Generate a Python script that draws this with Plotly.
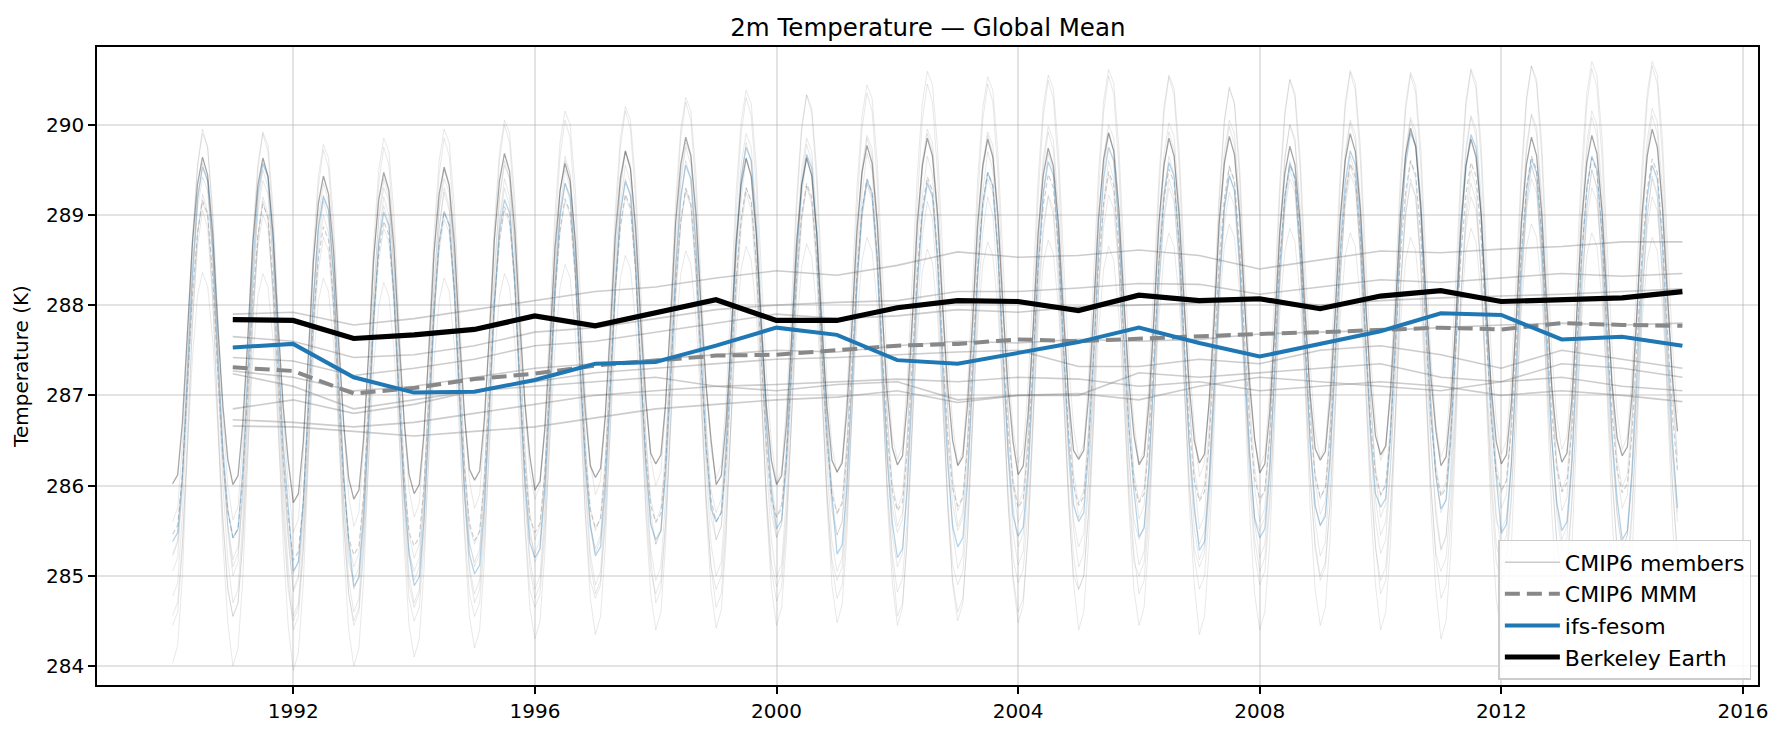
import plotly.graph_objects as go

# ---------------- data ----------------
years = list(range(1990, 2015))          # years of monthly data
tick_years = [1992, 1996, 2000, 2004, 2008, 2012, 2016]

# annual means (plotted at year end)
be_annual = [287.84, 287.83, 287.63, 287.67, 287.73, 287.88, 287.77, 287.91, 288.06, 287.83,
             287.83, 287.97, 288.05, 288.04, 287.94, 288.11, 288.05, 288.07, 287.96, 288.10,
             288.16, 288.04, 288.06, 288.08, 288.15]
ifs_annual = [287.53, 287.57, 287.20, 287.03, 287.04, 287.17, 287.35, 287.37, 287.55, 287.75,
              287.67, 287.39, 287.35, 287.47, 287.59, 287.75, 287.58, 287.43, 287.57, 287.71,
              287.91, 287.89, 287.62, 287.65, 287.55]
mmm_annual = [287.31, 287.27, 287.02, 287.08, 287.18, 287.24, 287.33, 287.38, 287.44, 287.45,
              287.50, 287.55, 287.57, 287.62, 287.60, 287.63, 287.66, 287.68, 287.70, 287.72,
              287.75, 287.73, 287.80, 287.78, 287.77]

member_m1 = [287.90, 287.92, 287.78, 287.85, 287.95, 288.05, 288.15, 288.20, 288.30, 288.38,
             288.33, 288.44, 288.59, 288.53, 288.55, 288.61, 288.55, 288.40, 288.50, 288.60,
             288.58, 288.62, 288.65, 288.70, 288.70]
member_m2 = [287.65, 287.60, 287.42, 287.45, 287.55, 287.70, 287.75, 287.85, 287.95, 288.00,
             288.03, 288.05, 288.15, 288.15, 288.19, 288.24, 288.23, 288.12, 288.20, 288.28,
             288.25, 288.30, 288.35, 288.32, 288.35]
member_m3 = [287.42, 287.38, 287.22, 287.30, 287.40, 287.55, 287.60, 287.70, 287.80, 287.90,
             287.85, 287.88, 287.95, 287.92, 287.98, 288.00, 288.02, 288.05, 288.00, 288.05,
             288.08, 288.10, 288.12, 288.15, 288.18]
member_m4 = [287.27, 287.20, 287.05, 287.10, 287.20, 287.30, 287.35, 287.40, 287.45, 287.50,
             287.48, 287.55, 287.60, 287.58, 287.62, 287.60, 287.62, 287.68, 287.70, 287.72,
             287.75, 287.78, 287.80, 287.78, 287.80]
member_m5 = [287.24, 287.10, 286.85, 286.95, 287.05, 287.15, 287.25, 287.30, 287.35, 287.40,
             287.42, 287.45, 287.48, 287.50, 287.32, 287.32, 287.40, 287.35, 287.50, 287.55,
             287.45, 287.30, 287.50, 287.40, 287.30]
member_m6 = [286.85, 286.95, 286.80, 286.90, 287.05, 287.10, 287.15, 287.20, 287.10, 287.05,
             287.12, 287.15, 286.95, 287.00, 287.00, 287.25, 287.20, 287.25, 287.30, 287.35,
             287.20, 287.15, 287.35, 287.30, 287.20]
member_m7 = [286.73, 286.70, 286.65, 286.70, 286.80, 286.90, 287.00, 287.05, 287.10, 287.12,
             287.15, 287.18, 287.15, 287.20, 287.18, 287.10, 287.15, 287.05, 287.10, 287.15,
             287.10, 287.00, 287.05, 287.00, 286.93]
member_m8 = [286.66, 286.65, 286.60, 286.55, 286.60, 286.65, 286.75, 286.85, 286.90, 286.95,
             286.98, 287.05, 286.92, 287.00, 287.02, 286.95, 287.10, 287.20, 287.15, 287.10,
             287.05, 287.15, 287.20, 287.10, 287.05]
members_annual = [member_m1, member_m2, member_m3, member_m4,
                  member_m5, member_m6, member_m7, member_m8]

# seasonal departures (Jan..Dec) from the annual mean, K
be_clim = [-1.82, -1.72, -1.15, -0.20, 0.85, 1.50, 1.80, 1.60, 0.95, -0.05, -0.95, -1.55]
ifs_clim = [-2.15, -2.05, -1.40, -0.30, 0.85, 1.65, 2.00, 1.85, 1.10, -0.05, -1.10, -1.80]
mmm_clim = [-1.85, -1.75, -1.20, -0.20, 0.80, 1.50, 1.85, 1.70, 1.00, -0.05, -1.00, -1.60]
clim_m1 = [-2.30, -2.15, -1.45, -0.30, 0.85, 1.65, 2.00, 1.85, 1.15, 0.00, -1.15, -1.90]
clim_m2 = [-2.60, -2.45, -1.65, -0.35, 1.00, 1.90, 2.30, 2.10, 1.30, 0.00, -1.30, -2.15]
clim_m3 = [-2.20, -2.05, -1.40, -0.30, 0.85, 1.65, 2.00, 1.85, 1.10, 0.00, -1.10, -1.85]
clim_m4 = [-2.50, -2.35, -1.60, -0.35, 0.95, 1.90, 2.30, 2.10, 1.25, 0.00, -1.25, -2.10]
clim_m5 = [-2.00, -1.85, -1.25, -0.25, 0.80, 1.55, 1.90, 1.75, 1.05, 0.00, -1.00, -1.70]
clim_m6 = [-2.40, -2.25, -1.55, -0.35, 0.95, 1.80, 2.20, 2.00, 1.20, 0.00, -1.20, -2.00]
clim_m7 = [-2.70, -2.50, -1.75, -0.40, 1.05, 2.05, 2.50, 2.30, 1.35, 0.00, -1.35, -2.25]
clim_m8 = [-2.10, -1.95, -1.30, -0.25, 0.75, 1.45, 1.70, 1.55, 0.95, 0.00, -1.05, -1.80]
members_clim = [clim_m1, clim_m2, clim_m3, clim_m4, clim_m5, clim_m6, clim_m7, clim_m8]

# ---------------- helpers ----------------
annual_dates = [f"{y}-12-31" for y in years]
month_dates = [f"{y}-{m:02d}-01" for y in years for m in range(1, 13)]


def monthly(annual, clim):
    return [annual[i] + clim[m] for i in range(len(years)) for m in range(12)]


fig = go.Figure()

# CMIP6 members monthly
for ann, cl in zip(members_annual, members_clim):
    fig.add_trace(go.Scatter(x=month_dates, y=monthly(ann, cl), mode="lines",
                             line=dict(color="rgba(128,128,128,0.18)", width=1.0),
                             showlegend=False, hoverinfo="skip"))
# CMIP6 members annual
for k, ann in enumerate(members_annual):
    fig.add_trace(go.Scatter(x=annual_dates, y=ann, mode="lines",
                             line=dict(color="rgba(128,128,128,0.40)", width=1.6),
                             name="CMIP6 members", legendgroup="mem",
                             showlegend=(k == 0), legendrank=1))
# MMM monthly
fig.add_trace(go.Scatter(x=month_dates, y=monthly(mmm_annual, mmm_clim), mode="lines",
                         line=dict(color="rgba(140,140,140,0.45)", width=1.1, dash="5px,3px"),
                         showlegend=False, hoverinfo="skip"))
# ifs-fesom monthly
fig.add_trace(go.Scatter(x=month_dates, y=monthly(ifs_annual, ifs_clim), mode="lines",
                         line=dict(color="rgba(31,119,180,0.32)", width=1.3),
                         showlegend=False, hoverinfo="skip"))
# Berkeley Earth monthly
fig.add_trace(go.Scatter(x=month_dates, y=monthly(be_annual, be_clim), mode="lines",
                         line=dict(color="rgba(0,0,0,0.35)", width=1.3),
                         showlegend=False, hoverinfo="skip"))
# annual highlights
fig.add_trace(go.Scatter(x=annual_dates, y=mmm_annual, mode="lines",
                         line=dict(color="#888888", width=4, dash="15px,7px"),
                         name="CMIP6 MMM", legendrank=2))
fig.add_trace(go.Scatter(x=annual_dates, y=ifs_annual, mode="lines",
                         line=dict(color="#1f77b4", width=4),
                         name="ifs-fesom", legendrank=3))
fig.add_trace(go.Scatter(x=annual_dates, y=be_annual, mode="lines",
                         line=dict(color="#000000", width=5.2),
                         name="Berkeley Earth", legendrank=4))

font = "DejaVu Sans, sans-serif"
fig.update_layout(
    width=1781, height=735,
    margin=dict(l=97, r=23, t=47, b=50),
    paper_bgcolor="white", plot_bgcolor="white",
    font=dict(family=font, size=20, color="black"),
    title=dict(text="2m Temperature — Global Mean", x=0.521, xanchor="center",
               y=0.963, yanchor="middle", font=dict(size=24.5, family=font)),
    showlegend=True,
    legend=dict(x=0.996, y=0.008, xanchor="right", yanchor="bottom",
                bgcolor="rgba(255,255,255,0.85)", bordercolor="#cccccc", borderwidth=1.5,
                font=dict(size=22, family=font), tracegroupgap=0,
                itemwidth=55),
)
fig.update_xaxes(
    type="date", range=["1988-10-01", "2016-04-01"],
    tickvals=[f"{y}-01-01" for y in tick_years], ticktext=[str(y) for y in tick_years],
    ticks="outside", ticklen=7, tickwidth=1.5, tickcolor="black",
    showline=True, linecolor="black", linewidth=1.6, mirror=True,
    showgrid=True, gridcolor="rgba(176,176,176,0.35)", gridwidth=1.5,
    zeroline=False, tickfont=dict(size=20),
)
fig.update_yaxes(
    range=[283.79, 290.86], tickvals=[284, 285, 286, 287, 288, 289, 290],
    title=dict(text="Temperature (K)", font=dict(size=20), standoff=12),
    ticks="outside", ticklen=7, tickwidth=1.5, tickcolor="black",
    showline=True, linecolor="black", linewidth=1.6, mirror=True,
    showgrid=True, gridcolor="rgba(176,176,176,0.35)", gridwidth=1.5,
    zeroline=False, tickfont=dict(size=20),
)

fig.write_html("out.html", config={"displayModeBar": False},
               post_script="document.body.style.margin='0';document.body.style.padding='0';")
